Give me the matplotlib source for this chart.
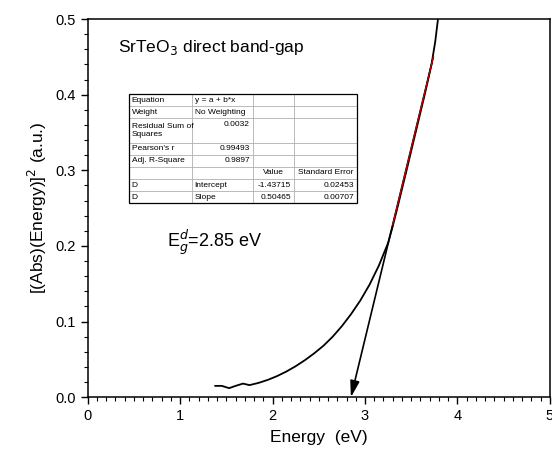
import numpy as np
from matplotlib import pyplot as plt
from matplotlib.ticker import MultipleLocator

plt.rcParams['font.family'] = ['Liberation Sans', 'DejaVu Sans']

# measured curve: energy (eV) vs (abs*E)^2
energy = [1.38, 1.45, 1.53, 1.60, 1.68, 1.75, 1.85, 1.95, 2.05, 2.15, 2.25, 2.35,
          2.45, 2.55, 2.65, 2.75, 2.85, 2.95, 3.05, 3.15, 3.25, 3.30, 3.35, 3.45,
          3.55, 3.65, 3.72, 3.76, 3.79]
signal = [0.015, 0.015, 0.012, 0.015, 0.018, 0.016, 0.019, 0.023, 0.028, 0.034,
          0.041, 0.049, 0.058, 0.068, 0.080, 0.094, 0.110, 0.128, 0.149, 0.174,
          0.204, 0.226, 0.250, 0.300, 0.351, 0.402, 0.440, 0.470, 0.500]

# linear fit y = a + b*x
fit_a = -1.43715
fit_b = 0.50465
fit_range = [3.30, 3.74]

table_rows = [
    ["Equation", "y = a + b*x", "", ""],
    ["Weight", "No Weighting", "", ""],
    ["Residual Sum of\nSquares", "0.0032", "", ""],
    ["Pearson's r", "0.99493", "", ""],
    ["Adj. R-Square", "0.9897", "", ""],
    ["", "", "Value", "Standard Error"],
    ["D", "Intercept", "-1.43715", "0.02453"],
    ["D", "Slope", "0.50465", "0.00707"],
]
row_units = [1, 1, 2, 1, 1, 1, 1, 1]

fig = plt.figure(figsize=(5.52, 4.55), dpi=100)
ax = fig.add_axes([0.159, 0.127, 0.837, 0.831])

ax.plot(energy, signal, color='black', lw=1.3, zorder=3)

x_top = fit_range[1]
y_top = fit_a + fit_b * x_top
ax.annotate('', xy=(-fit_a / fit_b, 0.0), xytext=(x_top, y_top),
            arrowprops=dict(arrowstyle='-|>,head_length=0.7,head_width=0.2',
                            color='black', lw=1.2, mutation_scale=14,
                            shrinkA=0, shrinkB=0),
            zorder=4)
xf = np.array(fit_range)
ax.plot(xf, fit_a + fit_b * xf, color='#cc0000', lw=0.9, zorder=5)

ax.set_xlim(0, 5)
ax.set_ylim(0, 0.5)
ax.xaxis.set_major_locator(MultipleLocator(1))
ax.xaxis.set_minor_locator(MultipleLocator(0.1))
ax.yaxis.set_major_locator(MultipleLocator(0.1))
ax.yaxis.set_minor_locator(MultipleLocator(0.02))
ax.yaxis.set_major_formatter(plt.FormatStrFormatter('%.1f'))
ax.tick_params(which='both', direction='out', top=False, right=False, labelsize=10.5)
ax.tick_params(which='major', length=5, width=1)
ax.tick_params(which='minor', length=3, width=0.8)
for s in ax.spines.values():
    s.set_linewidth(1.1)

ax.set_xlabel('Energy  (eV)', fontsize=12.5, labelpad=5)
ax.set_ylabel('[(Abs)(Energy)]$^2$ (a.u.)', fontsize=12.5, labelpad=5)

ax.text(0.065, 0.926, 'SrTeO$_3$ direct band-gap', transform=ax.transAxes,
        fontsize=12.5, va='center', ha='left')
ax.text(0.171, 0.41, 'E$^{d}_{g}$=2.85 eV', transform=ax.transAxes,
        fontsize=13, va='center', ha='left')

# fit results table, drawn in axes fractions
col_edges = [0.0887, 0.2251, 0.3571, 0.4459, 0.5823]
tab_top, tab_bot = 0.8016, 0.513
unit = (tab_top - tab_bot) / sum(row_units)
align = [['l', 'l', 'l', 'l'],
         ['l', 'l', 'l', 'l'],
         ['l', 'r', 'l', 'l'],
         ['l', 'r', 'l', 'l'],
         ['l', 'r', 'l', 'l'],
         ['l', 'l', 'c', 'c'],
         ['l', 'l', 'r', 'r'],
         ['l', 'l', 'r', 'r']]
y = tab_top
tr = ax.transAxes
for i, row in enumerate(table_rows):
    h = unit * row_units[i]
    for j, txt in enumerate(row):
        x0, x1 = col_edges[j], col_edges[j + 1]
        pad = 0.006
        a = align[i][j]
        if a == 'l':
            tx, ha = x0 + pad, 'left'
        elif a == 'r':
            tx, ha = x1 - pad, 'right'
        else:
            tx, ha = (x0 + x1) / 2, 'center'
        if row_units[i] > 1 and j > 0:
            ty = y - unit / 2
        else:
            ty = y - h / 2
        ax.text(tx, ty, txt, transform=tr, fontsize=6, ha=ha, va='center',
                linespacing=1.2, zorder=6)
    y -= h
    if i < len(table_rows) - 1:
        ax.plot([col_edges[0], col_edges[-1]], [y, y], transform=tr,
                color='#b0b0b0', lw=0.6, zorder=5)
for xe in col_edges[1:-1]:
    ax.plot([xe, xe], [tab_bot, tab_top], transform=tr, color='#b0b0b0',
            lw=0.6, zorder=5)
ax.add_patch(plt.Rectangle((col_edges[0], tab_bot), col_edges[-1] - col_edges[0],
                           tab_top - tab_bot, transform=tr, fill=False,
                           edgecolor='black', lw=0.9, zorder=6))

fig.savefig('out.png', dpi=100)
